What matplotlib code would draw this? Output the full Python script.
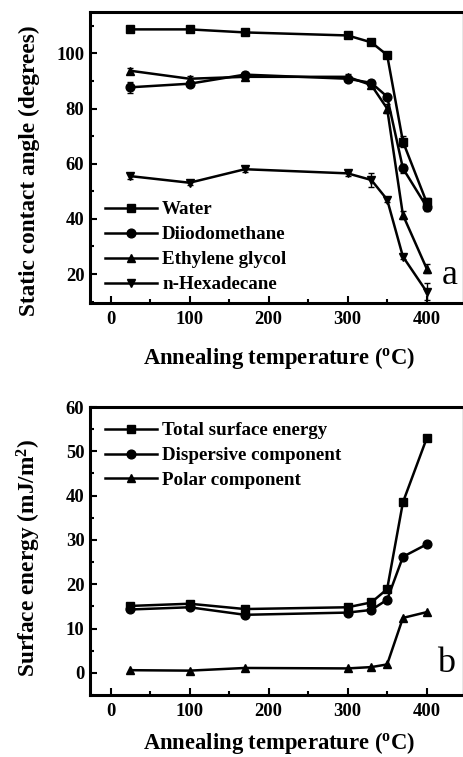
import matplotlib
matplotlib.use("Agg")
import matplotlib.pyplot as plt
from matplotlib.ticker import MultipleLocator

plt.rcParams['font.family'] = ['Liberation Serif', 'DejaVu Serif']
plt.rcParams['font.weight'] = 'bold'
plt.rcParams['axes.labelweight'] = 'bold'
plt.rcParams['mathtext.fontset'] = 'custom'
plt.rcParams['mathtext.rm'] = 'Liberation Serif:bold'
plt.rcParams['mathtext.it'] = 'Liberation Serif:bold:italic'
plt.rcParams['mathtext.default'] = 'rm'

# ---- data ----
temps = [25, 100, 170, 300, 330, 350, 370, 400]

water = [108.7, 108.7, 107.6, 106.5, 104.0, 99.4, 68.0, 46.0]
water_err = [1.0, 0.5, 0.5, 0.5, 0.5, 0.8, 2.0, 1.5]
diiodomethane = [87.7, 89.0, 92.3, 90.8, 89.3, 84.3, 58.3, 44.4]
diiodomethane_err = [2.0, 1.0, 1.0, 1.0, 1.0, 1.0, 1.5, 1.5]
ethylene_glycol = [93.7, 90.8, 91.5, 91.5, 88.5, 80.0, 41.4, 22.0]
ethylene_glycol_err = [1.0, 1.0, 1.0, 1.0, 1.0, 1.5, 1.5, 1.5]
hexadecane = [55.5, 53.1, 58.0, 56.5, 54.1, 47.0, 26.3, 13.6]
hexadecane_err = [1.0, 1.0, 1.0, 1.0, 2.5, 1.0, 1.0, 3.0]

total_energy = [15.1, 15.6, 14.4, 14.8, 15.9, 18.9, 38.5, 52.9]
dispersive = [14.3, 14.8, 13.1, 13.6, 14.2, 16.5, 26.2, 29.0]
polar = [0.6, 0.5, 1.1, 1.0, 1.3, 1.9, 12.4, 13.7]

top_labels = ['Water', 'Diiodomethane', 'Ethylene glycol', 'n-Hexadecane']
bottom_labels = ['Total surface energy', 'Dispersive component', 'Polar component']

W, H = 464, 757
fig = plt.figure(figsize=(W / 100, H / 100), dpi=100)

def px_axes(left, top, right, bottom):
    return fig.add_axes([left / W, 1 - bottom / H, (right - left) / W, (bottom - top) / H])

ax1 = px_axes(90, 12, 463, 303)
ax2 = px_axes(90, 407, 463, 695)

lw = 1.8
ms = 6.3
tick_fs = 13.4
ylabel_fs = 16.8
xlabel_fs = 16.3
leg_fs = 13.7

def style(ax):
    for s in ax.spines.values():
        s.set_linewidth(2.2)
    ax.spines['right'].set_linewidth(1.0)
    ax.spines['right'].set_color('#888888')
    ax.tick_params(which='both', direction='in', top=False, right=False,
                   width=1.5, labelsize=tick_fs)
    ax.tick_params(which='major', length=5, pad=6)
    ax.tick_params(which='minor', length=3)
    ax.tick_params(axis='y', which='major', pad=4)
    ax.set_xlim(-26, 446)
    ax.xaxis.set_major_locator(MultipleLocator(100))
    ax.xaxis.set_minor_locator(MultipleLocator(50))

series_top = [(water, water_err, 's'), (diiodomethane, diiodomethane_err, 'o'),
              (ethylene_glycol, ethylene_glycol_err, '^'), (hexadecane, hexadecane_err, 'v')]
handles = []
for (vals, err, mk), lab in zip(series_top, top_labels):
    ax1.errorbar(temps, vals, yerr=err, color='black', lw=lw, marker=mk, ms=ms,
                 capsize=2.5, elinewidth=1.0, capthick=1.0)
    h, = ax1.plot([], [], color='black', lw=lw, marker=mk, ms=ms)
    handles.append(h)
style(ax1)
ax1.set_ylim(9.5, 115)
ax1.yaxis.set_major_locator(MultipleLocator(20))
ax1.yaxis.set_minor_locator(MultipleLocator(10))
ax1.set_ylabel('Static contact angle (degrees)', fontsize=ylabel_fs)
ax1.yaxis.set_label_coords((40 - 90) / 373, (303 - 171) / 291)
ax1.set_xlabel(r'Annealing temperature ($^{\rm o}$C)', fontsize=xlabel_fs)
ax1.xaxis.set_label_coords((279 - 90) / 373, -(345 - 303) / 291)
ax1.legend(handles, top_labels, loc='upper left', bbox_to_anchor=(0.04, 0.35),
           frameon=False, fontsize=leg_fs, handlelength=2.75, handletextpad=0.25,
           labelspacing=0.40, borderpad=0, borderaxespad=0)
ax1.text((450 - 90) / 373, (303 - 276) / 291, 'a', transform=ax1.transAxes,
         fontsize=26, ha='center', va='center', fontweight='normal')

series_bot = [(total_energy, 's'), (dispersive, 'o'), (polar, '^')]
for (vals, mk), lab in zip(series_bot, bottom_labels):
    ax2.plot(temps, vals, color='black', lw=lw, marker=mk, ms=ms, label=lab)
style(ax2)
ax2.set_ylim(-5, 60)
ax2.yaxis.set_major_locator(MultipleLocator(10))
ax2.yaxis.set_minor_locator(MultipleLocator(5))
ax2.set_ylabel(r'Surface energy (mJ/m$^{2}$)', fontsize=ylabel_fs)
ax2.yaxis.set_label_coords((43 - 90) / 373, (695 - 558) / 288)
ax2.set_xlabel(r'Annealing temperature ($^{\rm o}$C)', fontsize=xlabel_fs)
ax2.xaxis.set_label_coords((279 - 90) / 373, -(730 - 695) / 288)
ax2.legend(loc='upper left', bbox_to_anchor=(0.04, 0.948),
           frameon=False, fontsize=leg_fs, handlelength=2.75, handletextpad=0.25,
           labelspacing=0.40, borderpad=0, borderaxespad=0)
ax2.text((446 - 90) / 373, (695 - 664) / 288, 'b', transform=ax2.transAxes,
         fontsize=26, ha='center', va='center', fontweight='normal')

fig.savefig('out.png', dpi=100)
